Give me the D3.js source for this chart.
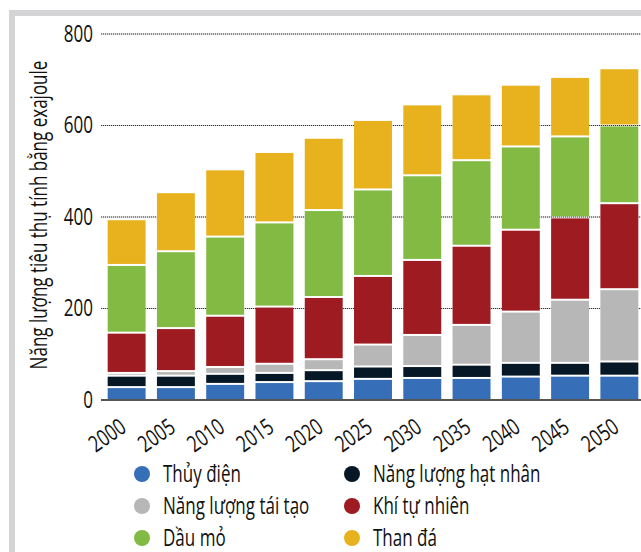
<!DOCTYPE html>
<html>
<head>
<meta charset="utf-8">
<script src="https://cdn.jsdelivr.net/npm/d3@7"></script>
<style>
    body { margin: 0; background: #fff; }
    text { font-family: "Open Sans", "Noto Sans", sans-serif; font-weight: 500; fill: #111; }
</style>
</head>
<body>
<script>
    const years = ["2000", "2005", "2010", "2015", "2020", "2025", "2030", "2035", "2040", "2045", "2050"];
    const hydro = [26, 26, 33, 37, 39, 44, 46, 46, 49, 51, 51];
    const nuclear = [25, 25, 22, 20, 24, 27, 26, 29, 30, 28, 31];
    const renewables = [6, 10, 15, 20, 24, 48, 68, 87, 112, 138, 158];
    const gas = [88, 94, 112, 125, 136, 150, 164, 173, 179, 180, 188];
    const oil = [148, 168, 173, 184, 190, 189, 185, 187, 182, 177, 170];
    const coal = [100, 129, 147, 154, 158, 152, 155, 144, 135, 130, 125];
    const yTicks = [0, 200, 400, 600, 800];

    const seriesKeys = ["hydro", "nuclear", "renewables", "gas", "oil", "coal"];
    const seriesNames = ["Thủy điện", "Năng lượng hạt nhân", "Năng lượng tái tạo", "Khí tự nhiên", "Dầu mỏ", "Than đá"];
    const colors = ["#366eb7", "#061826", "#b7b7b7", "#9e1b21", "#82ba43", "#e8b21f"];

    const w = 641, h = 552;
    const squeeze = 0.74;   // no condensed face installed, so narrow the glyphs by hand

    const rows = years.map((yr, i) => ({
        year: yr, hydro: hydro[i], nuclear: nuclear[i], renewables: renewables[i],
        gas: gas[i], oil: oil[i], coal: coal[i]
    }));

    const svg = d3.select("body")
        .append("svg")
        .attr("width", w)
        .attr("height", h);

    // light frame round the graphic
    svg.append("rect")
        .attr("x", 12).attr("y", 13)
        .attr("width", 700).attr("height", 600)
        .attr("fill", "none")
        .attr("stroke", "#d4d4d6")
        .attr("stroke-width", 6);

    let x = d3.scaleBand()
        .domain(years)
        .range([102, 644])
        .paddingInner(0.23)
        .paddingOuter(0.115);

    let y = d3.scaleLinear()
        .domain([0, 800])
        .range([400, 34]);

    let color = d3.scaleOrdinal().domain(seriesKeys).range(colors);

    // grid
    const grid = svg.append("g");
    grid.selectAll("line.bg")
        .data(yTicks.slice(1))
        .enter().append("line")
        .attr("x1", 101).attr("x2", w)
        .attr("y1", d => y(d)).attr("y2", d => y(d))
        .attr("stroke", "#c4c4c4")
        .attr("stroke-width", 1);
    grid.selectAll("line.dot")
        .data(yTicks.slice(1))
        .enter().append("line")
        .attr("x1", 101).attr("x2", w)
        .attr("y1", d => y(d)).attr("y2", d => y(d))
        .attr("stroke", "#333")
        .attr("stroke-width", 1)
        .attr("stroke-dasharray", "1,1");

    // stacked bars
    const stacked = d3.stack().keys(seriesKeys)(rows);

    svg.append("g")
        .selectAll("g")
        .data(stacked)
        .enter().append("g")
        .attr("fill", d => color(d.key))
        .selectAll("rect")
        .data((d, i) => d.map(p => ({ p: p, layer: i })))
        .enter().append("rect")
        .attr("x", d => x(d.p.data.year))
        .attr("width", x.bandwidth())
        .attr("y", d => y(d.p[1]))
        .attr("height", d => y(d.p[0]) - y(d.p[1]) - (d.layer > 0 ? 2 : 0));

    // baseline
    svg.append("line")
        .attr("x1", 101).attr("x2", w)
        .attr("y1", y(0)).attr("y2", y(0))
        .attr("stroke", "#555")
        .attr("stroke-width", 2);

    // y axis labels
    let yAxis = d3.axisLeft(y)
        .tickValues(yTicks)
        .tickSize(0)
        .tickPadding(0);

    const yg = svg.append("g")
        .attr("transform", "translate(93,0)")
        .call(yAxis);
    yg.select(".domain").remove();
    yg.selectAll("text")
        .attr("font-size", 23)
        .attr("font-family", null)
        .attr("fill", "#111")
        .attr("transform", `scale(${squeeze},1)`);

    // x axis labels (rotated)
    svg.append("g")
        .selectAll("text")
        .data(years)
        .enter().append("text")
        .attr("transform", d => `translate(${x(d) + x.bandwidth() / 2 - 8.5},417) rotate(-35) scale(${squeeze},1)`)
        .attr("text-anchor", "end")
        .attr("dy", "0.72em")
        .attr("font-size", 23)
        .text(d => d);

    svg.append("text")
        .attr("transform", `translate(47,215) rotate(-90) scale(${squeeze},1)`)
        .attr("text-anchor", "middle")
        .attr("font-size", 23)
        .text("Năng lượng tiêu thụ tính bằng exajoule");

    // legend, two columns
    const legend = svg.append("g")
        .selectAll("g")
        .data(seriesKeys)
        .enter().append("g")
        .attr("transform", (d, i) => `translate(${i % 2 === 0 ? 142 : 352},${474 + Math.floor(i / 2) * 32})`);

    legend.append("circle")
        .attr("r", 8)
        .attr("fill", d => color(d));

    legend.append("text")
        .attr("transform", `translate(21,8) scale(${squeeze},1)`)
        .attr("font-size", 23)
        .text((d, i) => seriesNames[i]);
</script>
</body>
</html>
